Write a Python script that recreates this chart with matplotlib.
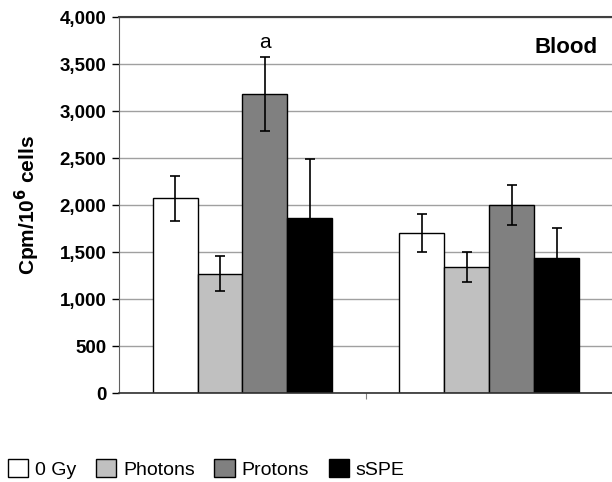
import matplotlib.pyplot as plt
import numpy as np
from matplotlib.ticker import FuncFormatter

plt.rcParams['font.family'] = ['Liberation Sans', 'DejaVu Sans']

groups = ['Group 1', 'Group 2']
treatments = ['0 Gy', 'Photons', 'Protons', 'sSPE']
colors = ['#ffffff', '#c0c0c0', '#808080', '#000000']

means = {
    '0 Gy':    [2070, 1700],
    'Photons': [1270, 1340],
    'Protons': [3180, 2000],
    'sSPE':    [1865, 1440],
}
errors = {
    '0 Gy':    [235, 205],
    'Photons': [185, 160],
    'Protons': [390, 210],
    'sSPE':    [625, 315],
}

fig = plt.figure(figsize=(6.12, 4.82), dpi=100)
ax = fig.add_axes([0.1944, 0.1846, 0.8070, 0.7801])

x = np.arange(len(groups))
width = 0.182
offsets = (np.arange(len(treatments)) - 1.5) * width

for i, t in enumerate(treatments):
    ax.bar(x + offsets[i], means[t], width, color=colors[i], edgecolor='black',
           linewidth=1.0, label=t, zorder=2)
    ax.errorbar(x + offsets[i], means[t], yerr=errors[t], fmt='none',
                ecolor='black', elinewidth=1.2, capsize=3.6, capthick=1.2, zorder=3)

ax.set_xlim(-0.5, 1.5)
ax.set_ylim(0, 4000)
ax.set_yticks(np.arange(0, 4001, 500))
ax.yaxis.set_major_formatter(FuncFormatter(lambda v, p: f'{int(v):,}'))
for lbl in ax.get_yticklabels():
    lbl.set_fontweight('bold')
ax.tick_params(axis='y', labelsize=13.5, length=5, width=1, pad=4)
ax.set_xticks([0.5])
ax.set_xticklabels([''])
ax.tick_params(axis='x', length=4, width=0.8, color='#808080')

ax.grid(axis='y', color='#a0a0a0', linewidth=1.0, zorder=0)
ax.set_axisbelow(True)
ax.spines['right'].set_visible(False)
ax.spines['top'].set_color('#404040')
ax.spines['top'].set_linewidth(1.5)
ax.spines['left'].set_color('#606060')
ax.spines['bottom'].set_color('#303030')
ax.spines['bottom'].set_linewidth(1.2)

ax.set_ylabel('Cpm/10$^\\mathbf{6}$ cells', fontsize=15, fontweight='bold', labelpad=13)

ax.text(x[0] + offsets[2], 3670, 'a', ha='center', va='baseline', fontsize=15)
ax.text(0.970, 0.918, 'Blood', transform=ax.transAxes, ha='right', va='center',
        fontsize=16, fontweight='bold')

fig.legend(loc='center left', bbox_to_anchor=(8 / 612, 1 - 469 / 482), ncol=4,
           frameon=False, fontsize=14, handlelength=1.05, handleheight=1.05,
           handletextpad=0.35, columnspacing=1.0, borderpad=0, borderaxespad=0)

fig.savefig('out.png', dpi=100)
